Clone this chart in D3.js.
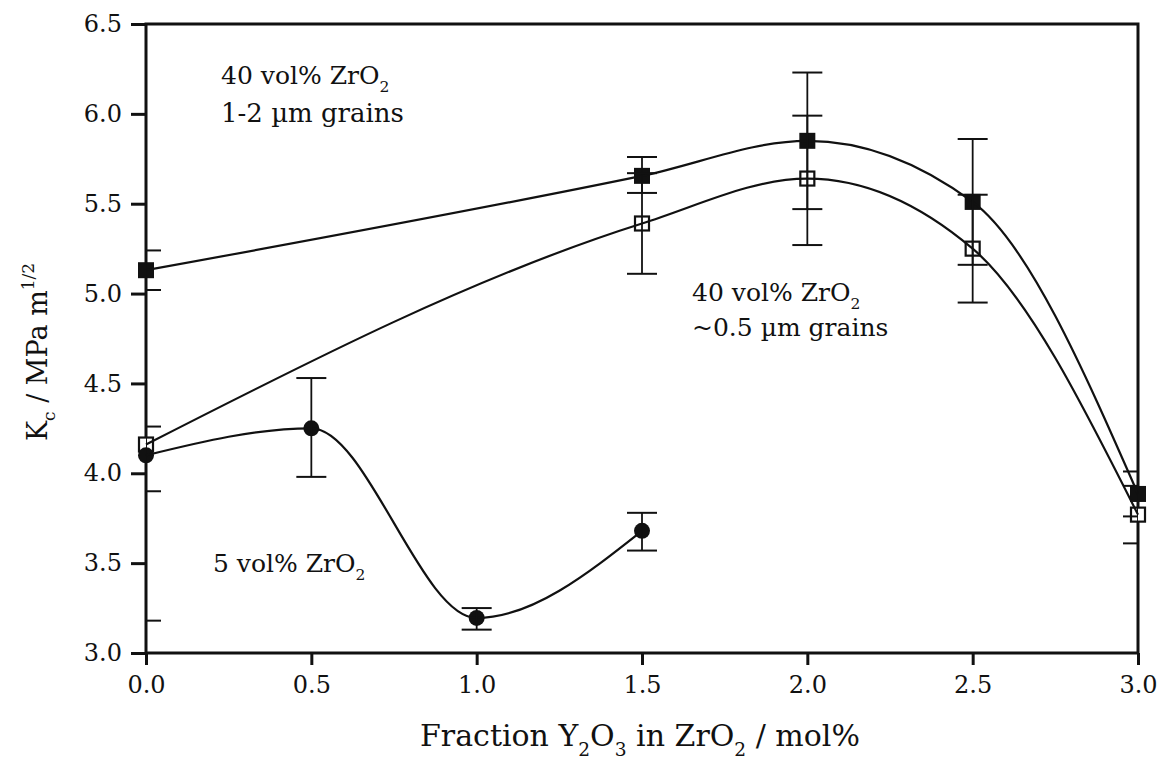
<!DOCTYPE html>
<html>
<head>
<meta charset="utf-8">
<script src="https://cdn.jsdelivr.net/npm/d3@7"></script>
<style>
  html, body { margin: 0; padding: 0; background: #fff; }
  svg { display: block; }
  svg text { font-family: "DejaVu Serif", "Liberation Serif", serif; fill: #111; }
</style>
</head>
<body>
<svg id="chart" width="1159" height="760"></svg>
<script>
// ---- data ----
const xSquares = [0, 1.5, 2.0, 2.5, 3.0];
const coarseVals = [5.13, 5.655, 5.85, 5.51, 3.885];   // filled squares, 1-2 µm grains
const coarseHi   = [5.24, 5.76, 6.23, 5.86, 4.01];
const coarseLo   = [5.02, 5.56, 5.47, 5.16, 3.76];

const fineVals = [4.16, 5.39, 5.64, 5.25, 3.77];       // open squares, ~0.5 µm grains
const fineHi   = [4.26, 5.67, 5.99, 5.55, 3.93];
const fineLo   = [3.90, 5.11, 5.27, 4.95, 3.61];

const xCircles = [0, 0.5, 1.0, 1.5];
const lowVals = [4.10, 4.25, 3.195, 3.68];              // filled circles, 5 vol%
const lowHi   = [5.02, 4.53, 3.25, 3.78];
const lowLo   = [3.18, 3.98, 3.13, 3.57];

const xTicks = [0, 0.5, 1.0, 1.5, 2.0, 2.5, 3.0];
const yTicks = [3.0, 3.5, 4.0, 4.5, 5.0, 5.5, 6.0, 6.5];

// ---- layout ----
const FONT = '"DejaVu Serif", "Liberation Serif", serif';
const svg = d3.select("#chart");
const L = 146, R = 1138, T = 24, B = 653;
const x = d3.scaleLinear().domain([0, 3]).range([L, R]);
const y = d3.scaleLinear().domain([3, 6.5]).range([B, T]);

const defs = svg.append("defs");
defs.append("clipPath").attr("id", "plotclip")
  .append("rect").attr("x", L).attr("y", 0).attr("width", R - L).attr("height", 760);

// axes
const fmt = d3.format(".1f");
const yAxis = svg.append("g").attr("transform", `translate(${L},0)`)
  .call(d3.axisLeft(y).tickValues(yTicks).tickFormat(fmt).tickSize(15).tickSizeOuter(0).tickPadding(9));
const xAxis = svg.append("g").attr("transform", `translate(0,${B})`)
  .call(d3.axisBottom(x).tickValues(xTicks).tickFormat(fmt).tickSize(12).tickSizeOuter(0).tickPadding(11));
[yAxis, xAxis].forEach(g => {
  g.attr("font-family", FONT).attr("font-size", 24);
  g.select(".domain").remove();
  g.selectAll(".tick line").attr("stroke", "#111").attr("stroke-width", 3);
  g.selectAll(".tick text").attr("font-family", FONT)
    .attr("font-size", 24).attr("fill", "#111");
});

// frame
svg.append("rect").attr("x", L).attr("y", T).attr("width", R - L).attr("height", B - T)
  .attr("fill", "none").attr("stroke", "#111").attr("stroke-width", 3);

// series
const series = [
  { xs: xSquares, v: coarseVals, hi: coarseHi, lo: coarseLo, shape: "fsq" },
  { xs: xSquares, v: fineVals, hi: fineHi, lo: fineLo, shape: "osq" },
  { xs: xCircles, v: lowVals, hi: lowHi, lo: lowLo, shape: "circ" }
];

const line = d3.line().x(d => x(d[0])).y(d => y(d[1])).curve(d3.curveMonotoneX);

const gMarks = svg.append("g");
const gLines = svg.append("g");
const gErr = svg.append("g").attr("clip-path", "url(#plotclip)");

series.forEach(s => {
  const pts = s.xs.map((xv, i) => [xv, s.v[i]]);
  pts.forEach(p => {
    if (s.shape === "fsq") {
      gMarks.append("rect").attr("x", x(p[0]) - 8).attr("y", y(p[1]) - 8)
        .attr("width", 16).attr("height", 16).attr("fill", "#111");
    } else if (s.shape === "osq") {
      gMarks.append("rect").attr("x", x(p[0]) - 7).attr("y", y(p[1]) - 7)
        .attr("width", 14).attr("height", 14).attr("fill", "#fff")
        .attr("stroke", "#111").attr("stroke-width", 2.2);
    } else {
      gMarks.append("circle").attr("cx", x(p[0])).attr("cy", y(p[1])).attr("r", 8).attr("fill", "#111");
    }
  });
  gLines.append("path").datum(pts).attr("d", line)
    .attr("fill", "none").attr("stroke", "#111").attr("stroke-width", 2.2);
  s.xs.forEach((xv, i) => {
    const cx = x(xv);
    gErr.append("line").attr("x1", cx).attr("x2", cx).attr("y1", y(s.hi[i])).attr("y2", y(s.lo[i]))
      .attr("stroke", "#111").attr("stroke-width", 1.8);
    [s.hi[i], s.lo[i]].forEach(e => {
      gErr.append("line").attr("x1", cx - 15).attr("x2", cx + 15).attr("y1", y(e)).attr("y2", y(e))
        .attr("stroke", "#111").attr("stroke-width", 2);
    });
  });
});

function richText(xp, yp, size, segs) {
  const t = svg.append("text").attr("x", xp).attr("y", yp)
    .attr("font-family", FONT).attr("font-size", size);
  let shift = 0;
  segs.forEach(sg => {
    const target = sg.sub ? size * 0.32 : sg.sup ? -size * 0.45 : 0;
    const ts = t.append("tspan").attr("dy", target - shift).text(sg.t);
    if (sg.sub || sg.sup) ts.attr("font-size", size * 0.62);
    shift = target;
  });
  return t;
}

richText(221, 84, 25, [{ t: "40 vol% ZrO" }, { t: "2", sub: true }]);
richText(221, 122, 26, [{ t: "1-2 µm grains" }]);
richText(692, 301, 25, [{ t: "40 vol% ZrO" }, { t: "2", sub: true }]);
richText(692, 336, 25, [{ t: "~0.5 µm grains" }]);
richText(213, 572, 25, [{ t: "5 vol% ZrO" }, { t: "2", sub: true }]);

const xt = richText(0, 746, 30, [{ t: "Fraction Y" }, { t: "2", sub: true }, { t: "O" }, { t: "3", sub: true },
  { t: " in ZrO" }, { t: "2", sub: true }, { t: " / mol%" }]);
xt.attr("text-anchor", "middle").attr("x", 640);

const yt = svg.append("text").attr("transform", "translate(47,352) rotate(-90)")
  .attr("text-anchor", "middle").attr("font-family", FONT).attr("font-size", 27);
yt.append("tspan").text("K");
yt.append("tspan").attr("dy", 8).attr("font-size", 17).text("c");
yt.append("tspan").attr("dy", -8).text(" / MPa m");
yt.append("tspan").attr("dy", -13).attr("font-size", 17).text("1/2");
</script>
</body>
</html>
